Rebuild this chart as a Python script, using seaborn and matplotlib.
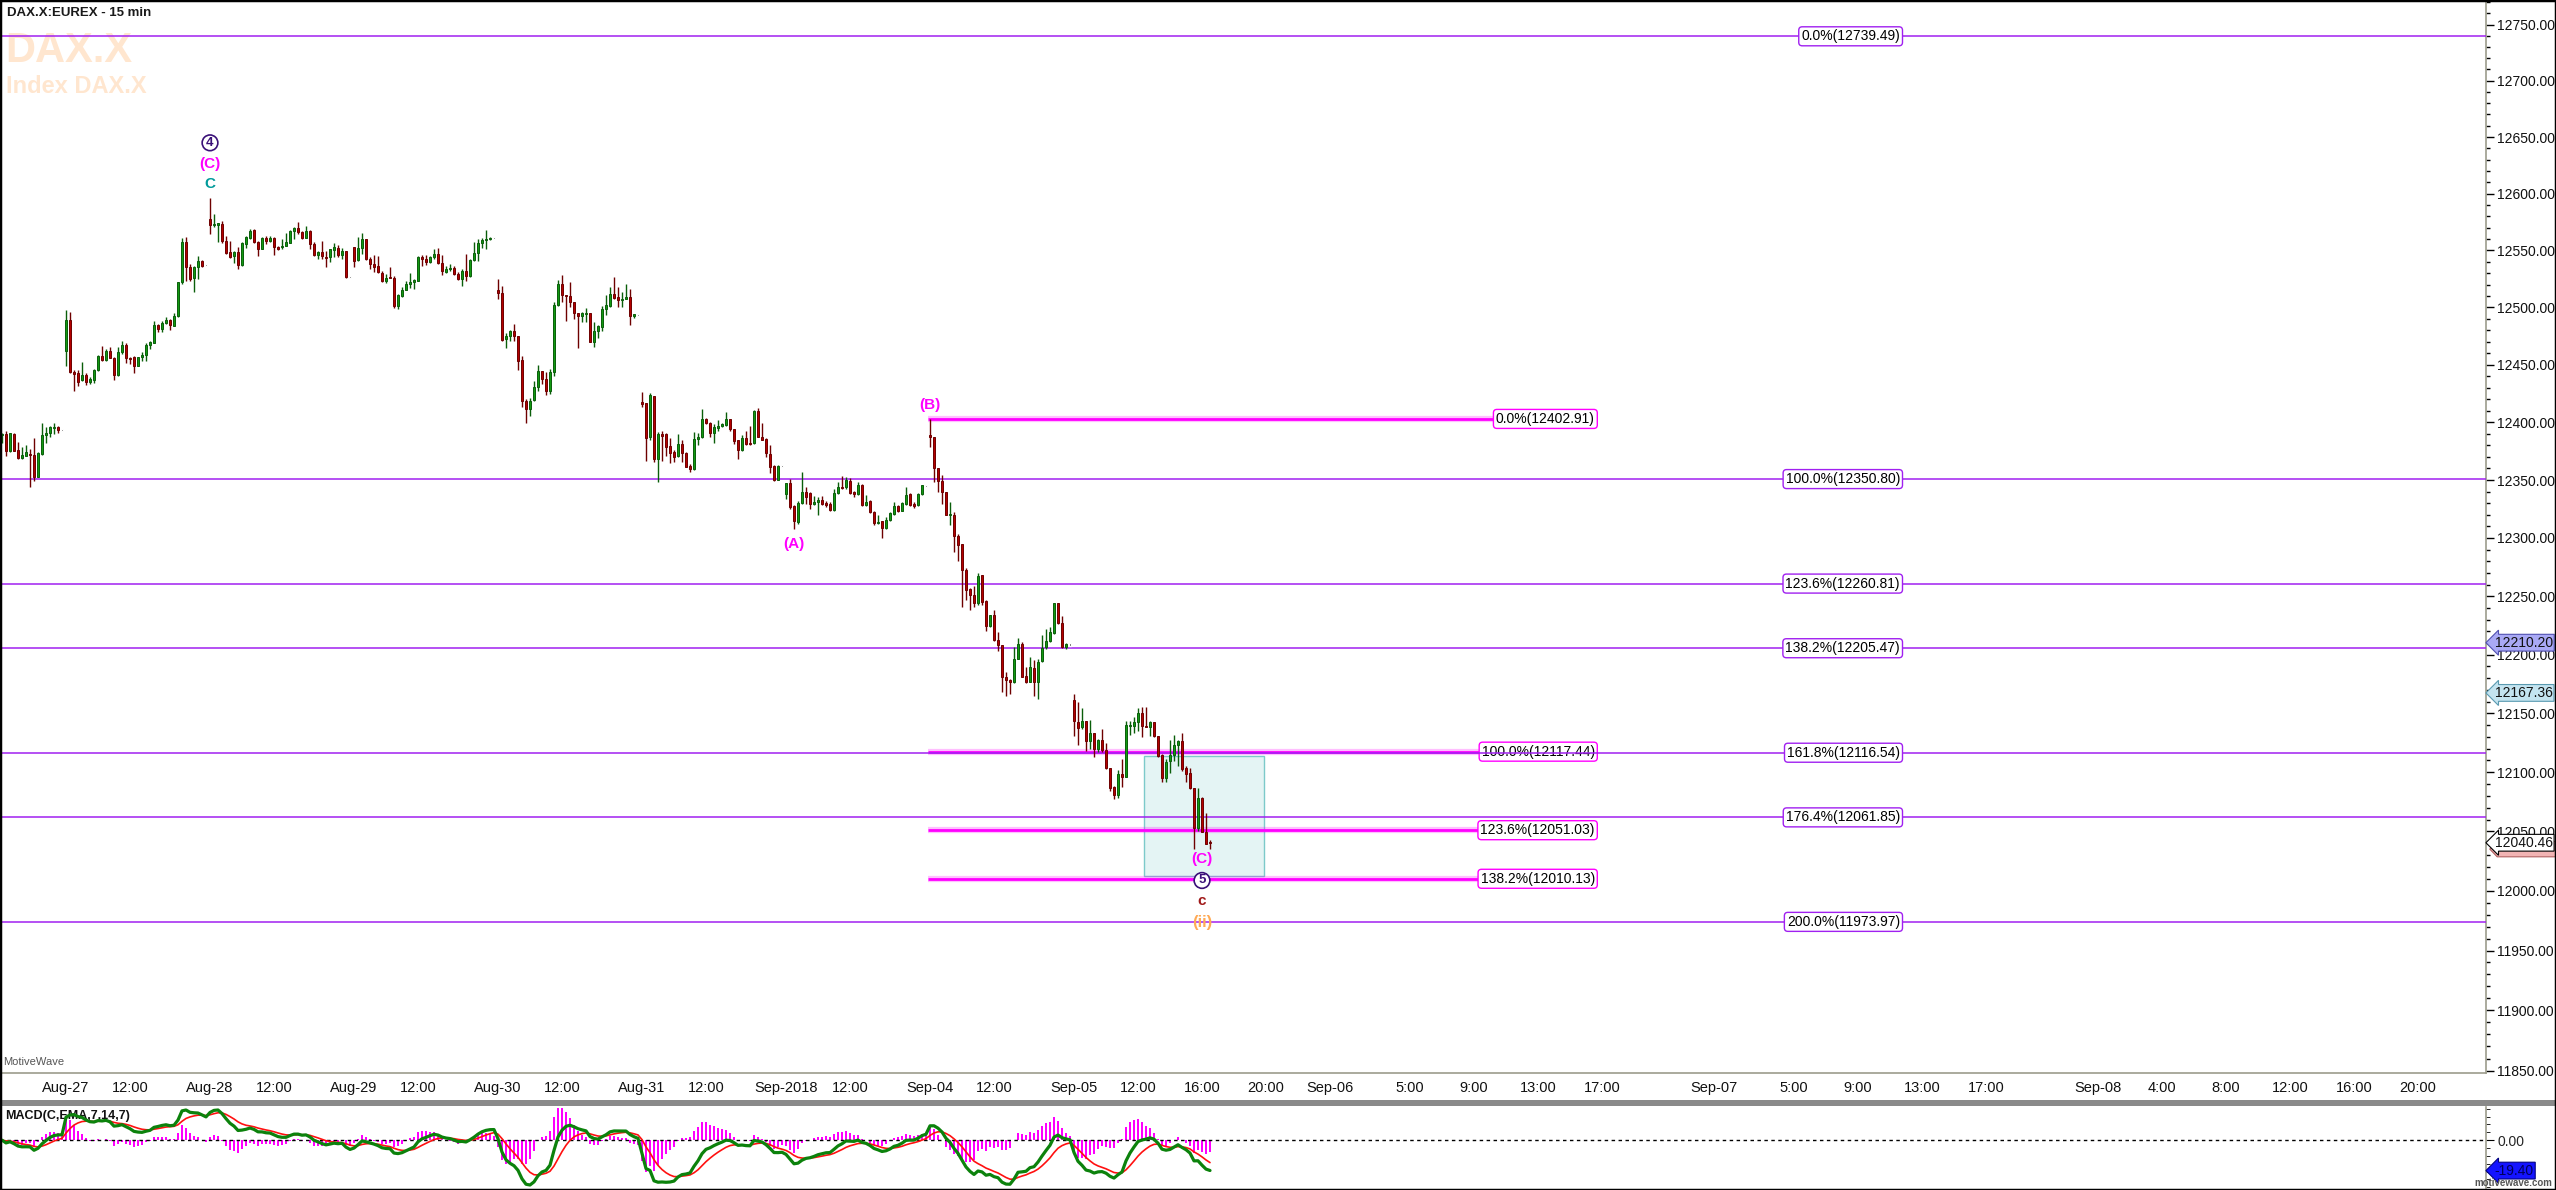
import numpy as np
import pandas as pd
import matplotlib
matplotlib.use("Agg")
import matplotlib.pyplot as plt
import matplotlib.ticker as mticker
from matplotlib.patches import Rectangle, Polygon
from matplotlib.transforms import blended_transform_factory
import seaborn as sns

# ---------------------------------------------------------------------------
# Data: 15-min bars (open, high, low, close)
# ---------------------------------------------------------------------------
aug24 = [
    (12389.0, 12390.4, 12381.8, 12389.9), (12389.9, 12392.8, 12371.2, 12374.9),
    (12374.9, 12391.0, 12374.5, 12390.4), (12389.9, 12390.4, 12375.5, 12375.5),
    (12376.0, 12382.7, 12368.5, 12368.8), (12368.8, 12378.4, 12368.5, 12372.0),
    (12370.9, 12380.4, 12370.5, 12373.8), (12372.6, 12377.0, 12343.6, 12371.8),
    (12372.0, 12386.1, 12348.9, 12352.3), (12352.3, 12374.0, 12352.3, 12373.5),
    (12372.6, 12399.1, 12371.5, 12389.3), (12389.0, 12395.6, 12382.4, 12391.0),
    (12390.4, 12396.8, 12387.0, 12395.6), (12395.1, 12399.1, 12389.9, 12396.0),
    (12396.2, 12396.5, 12390.4, 12393.0), (12393.2, 12393.2, 12393.2, 12393.2),
]
aug27 = [
    (12461.7, 12497.9, 12449.2, 12489.1), (12489.1, 12496.4, 12442.5, 12443.4),
    (12443.4, 12445.5, 12427.4, 12442.0), (12442.9, 12445.5, 12431.7, 12434.6),
    (12436.7, 12452.7, 12436.1, 12441.1), (12441.4, 12442.5, 12432.0, 12434.6),
    (12434.6, 12439.6, 12433.2, 12437.6), (12437.0, 12446.0, 12433.8, 12445.5),
    (12445.5, 12458.8, 12444.9, 12457.9), (12457.9, 12466.7, 12453.6, 12454.2),
    (12454.2, 12463.8, 12453.6, 12462.3), (12462.3, 12465.2, 12455.6, 12455.9),
    (12455.9, 12456.5, 12437.0, 12440.8), (12440.8, 12465.8, 12440.5, 12461.2),
    (12460.8, 12471.0, 12459.4, 12467.5), (12467.5, 12468.7, 12451.2, 12455.9),
    (12455.9, 12457.1, 12450.7, 12454.7), (12456.5, 12457.9, 12442.5, 12449.0),
    (12449.0, 12457.1, 12448.6, 12456.5), (12456.5, 12460.8, 12453.6, 12458.8),
    (12458.5, 12468.7, 12453.6, 12467.5), (12466.9, 12470.4, 12463.8, 12469.9),
    (12469.3, 12488.5, 12468.7, 12485.0), (12485.0, 12485.6, 12478.3, 12481.3),
    (12481.3, 12488.5, 12478.3, 12486.5), (12486.5, 12491.4, 12485.6, 12489.1),
    (12489.1, 12490.0, 12480.4, 12484.4), (12483.8, 12495.2, 12483.5, 12492.9),
    (12492.3, 12522.7, 12492.0, 12522.4), (12522.4, 12560.7, 12520.6, 12557.8),
    (12557.8, 12561.5, 12523.5, 12535.2), (12535.2, 12538.1, 12523.5, 12525.0),
    (12525.6, 12536.7, 12513.3, 12535.8), (12535.2, 12545.4, 12525.0, 12541.0),
    (12541.0, 12541.7, 12535.8, 12536.7), (12536.9, 12536.9, 12536.9, 12536.9),
]
aug28 = [
    (12577.8, 12596.3, 12564.5, 12572.5), (12572.5, 12582.2, 12570.4, 12573.3),
    (12572.7, 12573.9, 12557.1, 12573.3), (12573.3, 12575.6, 12556.9, 12558.0),
    (12558.0, 12563.0, 12546.9, 12547.8), (12548.3, 12558.6, 12543.4, 12544.5),
    (12545.1, 12549.8, 12538.7, 12548.3), (12548.3, 12552.7, 12533.8, 12537.3),
    (12537.3, 12557.1, 12536.4, 12556.6), (12555.7, 12563.0, 12551.9, 12561.5),
    (12561.0, 12568.9, 12560.1, 12567.4), (12568.1, 12568.9, 12556.9, 12557.8),
    (12557.8, 12558.6, 12545.4, 12551.3), (12551.3, 12561.5, 12551.0, 12561.0),
    (12561.0, 12563.0, 12555.7, 12558.0), (12558.0, 12562.4, 12557.8, 12561.0),
    (12561.0, 12561.5, 12546.3, 12553.4), (12553.4, 12554.2, 12550.4, 12551.3),
    (12552.7, 12560.1, 12551.3, 12554.2), (12554.0, 12565.1, 12553.6, 12557.1),
    (12556.6, 12568.1, 12556.2, 12567.4), (12566.8, 12570.4, 12560.1, 12569.8),
    (12569.8, 12575.4, 12564.5, 12565.9), (12566.6, 12567.4, 12560.1, 12561.0),
    (12561.0, 12571.9, 12560.6, 12567.4), (12567.4, 12568.1, 12551.0, 12555.7),
    (12555.7, 12557.1, 12545.4, 12546.0), (12546.0, 12549.8, 12542.2, 12548.9),
    (12548.9, 12558.6, 12542.5, 12544.8), (12544.5, 12549.8, 12535.8, 12543.4),
    (12543.9, 12551.3, 12539.6, 12551.3), (12550.4, 12556.9, 12544.5, 12552.8),
    (12552.2, 12555.1, 12543.9, 12546.0), (12546.0, 12552.2, 12542.5, 12549.8),
    (12549.8, 12549.8, 12525.9, 12526.4), (12526.4, 12526.4, 12526.4, 12526.4),
]
aug29 = [
    (12553.3, 12553.3, 12535.2, 12540.4), (12541.6, 12562.2, 12540.4, 12552.2),
    (12552.2, 12565.1, 12546.9, 12560.1), (12560.1, 12560.4, 12541.6, 12542.5),
    (12542.5, 12544.5, 12533.8, 12538.1), (12538.1, 12546.3, 12530.8, 12535.8),
    (12536.7, 12545.4, 12530.5, 12530.8), (12529.9, 12532.3, 12522.0, 12523.5),
    (12523.5, 12529.4, 12521.2, 12525.9), (12527.0, 12535.8, 12525.6, 12525.6),
    (12525.9, 12527.9, 12499.6, 12501.0), (12501.0, 12511.8, 12498.4, 12511.3),
    (12510.4, 12517.6, 12508.9, 12515.6), (12515.6, 12523.5, 12515.3, 12520.6),
    (12520.6, 12529.9, 12517.1, 12522.6), (12522.0, 12525.0, 12515.9, 12524.1),
    (12523.5, 12545.4, 12522.9, 12544.5), (12544.5, 12545.7, 12536.1, 12542.5),
    (12542.5, 12546.3, 12537.5, 12539.6), (12539.6, 12545.4, 12539.0, 12544.5),
    (12543.9, 12551.3, 12542.5, 12546.9), (12546.9, 12552.2, 12538.1, 12538.7),
    (12539.3, 12546.3, 12528.8, 12531.7), (12531.4, 12536.4, 12529.9, 12533.8),
    (12533.4, 12538.1, 12532.3, 12534.6), (12534.6, 12536.4, 12528.5, 12529.4),
    (12529.4, 12530.8, 12524.1, 12525.0), (12525.0, 12533.4, 12519.1, 12532.3),
    (12532.3, 12546.9, 12522.9, 12527.9), (12527.9, 12542.5, 12527.0, 12541.6),
    (12541.6, 12557.7, 12541.0, 12548.0), (12548.0, 12560.1, 12541.0, 12556.3),
    (12556.3, 12561.0, 12552.2, 12559.3), (12559.3, 12568.1, 12551.0, 12560.1),
    (12560.1, 12561.6, 12559.3, 12560.7), (12560.7, 12560.7, 12560.7, 12560.7),
]
aug30 = [
    (12515.6, 12525.0, 12507.5, 12512.4), (12512.7, 12518.9, 12470.4, 12471.9),
    (12472.5, 12477.7, 12464.3, 12475.4), (12474.8, 12480.6, 12470.4, 12479.8),
    (12479.8, 12485.6, 12471.0, 12474.8), (12475.4, 12475.4, 12445.7, 12453.6),
    (12454.2, 12457.9, 12412.9, 12418.1), (12418.7, 12420.2, 12399.1, 12411.5),
    (12411.5, 12421.1, 12405.7, 12418.7), (12419.3, 12436.1, 12418.7, 12430.3),
    (12430.3, 12450.1, 12427.4, 12444.9), (12444.9, 12444.9, 12433.2, 12437.6),
    (12437.6, 12444.0, 12423.9, 12426.8), (12427.4, 12446.3, 12424.5, 12444.0),
    (12443.4, 12504.5, 12439.9, 12502.2), (12502.2, 12524.1, 12501.0, 12520.6),
    (12520.6, 12528.8, 12504.5, 12511.0), (12511.3, 12511.3, 12487.9, 12509.8),
    (12510.4, 12522.6, 12500.2, 12504.5), (12505.1, 12505.1, 12490.0, 12494.9),
    (12495.5, 12495.5, 12464.3, 12492.3), (12492.6, 12495.8, 12487.0, 12494.9),
    (12494.3, 12499.6, 12487.0, 12495.5), (12495.5, 12495.5, 12469.6, 12469.6),
    (12469.6, 12487.0, 12465.2, 12479.8), (12479.2, 12485.0, 12473.0, 12483.5),
    (12482.6, 12501.6, 12479.2, 12498.7), (12498.7, 12511.3, 12493.7, 12502.2),
    (12501.6, 12517.6, 12500.8, 12511.8), (12511.8, 12527.0, 12507.5, 12508.0),
    (12508.9, 12517.6, 12500.2, 12506.3), (12506.6, 12513.9, 12500.8, 12507.8),
    (12507.8, 12520.6, 12507.5, 12509.5), (12509.5, 12515.9, 12485.0, 12492.3),
    (12492.9, 12493.7, 12490.9, 12493.7), (12493.2, 12493.2, 12493.2, 12493.2),
]
aug31 = [
    (12417.8, 12426.5, 12412.9, 12415.5), (12416.4, 12416.4, 12366.2, 12386.1),
    (12387.0, 12425.0, 12384.8, 12423.6), (12423.0, 12423.0, 12365.3, 12368.0),
    (12368.0, 12391.3, 12348.0, 12389.9), (12389.9, 12392.2, 12366.8, 12388.5),
    (12389.9, 12390.4, 12370.6, 12378.4), (12379.8, 12386.5, 12364.5, 12373.2),
    (12374.0, 12376.1, 12365.3, 12369.7), (12370.6, 12389.9, 12369.7, 12381.3),
    (12381.3, 12384.2, 12365.3, 12373.2), (12373.5, 12374.0, 12361.0, 12361.6),
    (12362.2, 12363.9, 12356.7, 12359.3), (12359.3, 12391.3, 12359.0, 12385.6),
    (12385.6, 12390.4, 12380.7, 12387.6), (12387.0, 12411.5, 12386.5, 12402.9),
    (12402.9, 12403.4, 12398.6, 12399.1), (12399.7, 12400.6, 12387.0, 12390.4),
    (12390.4, 12398.6, 12382.2, 12395.6), (12394.8, 12402.0, 12392.2, 12396.8),
    (12396.5, 12399.7, 12395.6, 12398.6), (12398.0, 12409.2, 12397.1, 12402.9),
    (12402.9, 12402.9, 12392.8, 12394.2), (12394.2, 12394.2, 12381.3, 12383.6),
    (12384.2, 12384.2, 12368.0, 12376.1), (12376.1, 12389.3, 12375.5, 12386.5),
    (12386.5, 12392.2, 12380.7, 12381.3), (12381.8, 12396.8, 12380.7, 12381.3),
    (12381.8, 12410.9, 12381.3, 12410.1), (12410.1, 12412.4, 12387.0, 12387.6),
    (12387.6, 12399.7, 12384.2, 12384.8), (12385.6, 12386.5, 12369.7, 12373.2),
    (12372.6, 12380.7, 12356.4, 12361.6), (12362.5, 12363.1, 12349.5, 12350.3),
    (12350.3, 12363.1, 12350.3, 12362.5), (12362.5, 12362.5, 12362.5, 12362.5),
]
sep03 = [
    (12337.9, 12347.5, 12333.5, 12347.5), (12347.5, 12350.9, 12325.0, 12326.4),
    (12327.2, 12328.7, 12307.8, 12314.4), (12313.5, 12332.1, 12312.1, 12330.1),
    (12329.8, 12357.3, 12329.3, 12339.9), (12339.9, 12344.3, 12329.3, 12335.5),
    (12338.4, 12339.3, 12325.0, 12329.3), (12329.3, 12336.4, 12328.4, 12331.2),
    (12330.6, 12334.9, 12320.1, 12332.7), (12332.7, 12335.8, 12328.7, 12329.3),
    (12329.8, 12331.5, 12326.4, 12328.7), (12329.3, 12330.6, 12323.5, 12324.1),
    (12324.1, 12342.3, 12323.5, 12338.8), (12338.8, 12348.0, 12337.9, 12344.3),
    (12344.3, 12353.8, 12342.3, 12342.8), (12343.7, 12352.3, 12342.3, 12350.1),
    (12348.9, 12351.8, 12337.9, 12338.8), (12339.3, 12340.2, 12334.9, 12337.9),
    (12337.9, 12348.0, 12337.3, 12345.7), (12346.0, 12346.6, 12327.8, 12328.4),
    (12328.4, 12337.0, 12327.8, 12331.2), (12332.1, 12332.7, 12321.2, 12322.1),
    (12322.7, 12323.5, 12311.5, 12312.6), (12312.6, 12320.1, 12312.1, 12314.1),
    (12314.4, 12315.0, 12300.1, 12308.3), (12308.3, 12318.4, 12307.8, 12315.8),
    (12315.8, 12322.1, 12315.0, 12321.2), (12320.7, 12330.6, 12320.1, 12327.8),
    (12327.8, 12328.4, 12322.1, 12322.9), (12322.9, 12330.6, 12322.9, 12329.8),
    (12329.3, 12343.7, 12328.7, 12337.0), (12337.9, 12338.4, 12327.8, 12328.7),
    (12329.3, 12330.6, 12325.5, 12327.8), (12328.4, 12338.4, 12327.8, 12337.9),
    (12337.9, 12346.0, 12337.3, 12345.7), (12345.1, 12345.1, 12345.1, 12345.1),
]
sep04 = [
    (12389.3, 12402.9, 12378.4, 12387.0), (12387.6, 12387.6, 12348.0, 12360.1),
    (12360.5, 12360.5, 12339.3, 12349.5), (12349.5, 12354.7, 12329.3, 12339.3),
    (12339.9, 12339.9, 12319.9, 12319.9), (12319.9, 12331.2, 12311.5, 12320.7),
    (12320.1, 12322.1, 12287.8, 12301.5), (12302.1, 12303.6, 12280.1, 12294.2),
    (12294.4, 12294.4, 12240.5, 12272.6), (12272.9, 12274.0, 12247.1, 12255.6),
    (12256.2, 12257.1, 12238.2, 12251.0), (12251.3, 12258.5, 12240.5, 12243.9),
    (12243.9, 12270.0, 12242.5, 12267.7), (12268.5, 12268.5, 12242.7, 12244.7),
    (12246.2, 12246.8, 12219.9, 12224.2), (12224.2, 12233.9, 12223.9, 12233.9),
    (12233.9, 12238.2, 12211.3, 12212.5), (12212.5, 12219.6, 12202.7, 12208.2),
    (12208.2, 12208.2, 12167.8, 12180.6), (12181.2, 12184.8, 12164.4, 12178.4),
    (12178.4, 12179.2, 12166.4, 12176.3), (12176.3, 12206.1, 12175.5, 12196.7),
    (12196.7, 12214.2, 12196.2, 12209.0), (12209.0, 12211.1, 12180.6, 12181.2),
    (12182.0, 12189.1, 12175.5, 12176.9), (12176.9, 12198.2, 12176.3, 12189.1),
    (12188.2, 12195.4, 12165.0, 12176.3), (12176.3, 12196.2, 12162.1, 12193.9),
    (12194.2, 12216.8, 12193.9, 12205.6), (12206.1, 12221.9, 12204.7, 12211.9),
    (12211.9, 12223.9, 12210.4, 12219.0), (12218.5, 12244.2, 12217.6, 12244.2),
    (12244.2, 12244.2, 12226.2, 12226.8), (12226.8, 12233.4, 12205.6, 12206.1),
    (12206.1, 12210.2, 12204.7, 12209.3), (12208.7, 12208.7, 12208.7, 12208.7),
]
sep05 = [
    (12161.3, 12166.4, 12130.9, 12143.1), (12142.3, 12159.9, 12123.3, 12137.5),
    (12138.6, 12154.5, 12136.6, 12143.1), (12143.7, 12143.7, 12117.6, 12126.7),
    (12126.7, 12144.3, 12119.6, 12132.9), (12132.9, 12132.9, 12113.1, 12119.6),
    (12119.6, 12128.1, 12116.8, 12127.3), (12127.3, 12136.6, 12116.8, 12118.8),
    (12118.8, 12125.2, 12102.7, 12103.6), (12103.6, 12103.6, 12084.3, 12086.3),
    (12087.2, 12088.6, 12077.3, 12080.7), (12080.7, 12101.8, 12078.2, 12098.5),
    (12098.5, 12111.2, 12087.2, 12095.6), (12096.2, 12143.7, 12095.6, 12140.3),
    (12138.9, 12143.1, 12131.5, 12140.3), (12139.5, 12146.5, 12132.9, 12142.8),
    (12142.3, 12154.5, 12135.2, 12150.3), (12150.3, 12155.6, 12130.3, 12138.9),
    (12139.5, 12155.6, 12138.0, 12138.0), (12138.0, 12143.1, 12130.9, 12142.3),
    (12142.3, 12142.8, 12130.3, 12130.9), (12130.9, 12130.9, 12113.1, 12114.0),
    (12114.8, 12115.4, 12092.0, 12094.8), (12094.8, 12111.2, 12091.4, 12108.9),
    (12109.8, 12127.5, 12099.3, 12114.8), (12114.8, 12131.5, 12109.2, 12123.0),
    (12123.0, 12127.5, 12105.5, 12126.7), (12126.1, 12133.2, 12101.3, 12102.7),
    (12103.6, 12104.9, 12092.0, 12098.5), (12099.0, 12103.2, 12085.8, 12086.6),
    (12086.6, 12086.6, 12035.1, 12053.3), (12053.3, 12086.3, 12050.0, 12077.8),
    (12077.8, 12079.2, 12049.1, 12049.7), (12049.1, 12065.5, 12039.3, 12039.3),
    (12041.5, 12042.7, 12035.1, 12040.46),
]
DAY_BARS = [aug24, aug27, aug28, aug29, aug30, aug31, sep03, sep04, sep05]
DAY_STARTS = ["2018-08-24 13:00", "2018-08-27 08:00", "2018-08-28 08:00",
              "2018-08-29 08:00", "2018-08-30 08:00", "2018-08-31 08:00",
              "2018-09-03 08:00", "2018-09-04 08:00", "2018-09-05 08:00"]

# axis ticks
TICK_TIMES = ["2018-08-27 08:00", "2018-08-27 12:00", "2018-08-28 08:00", "2018-08-28 12:00",
              "2018-08-29 08:00", "2018-08-29 12:00", "2018-08-30 08:00", "2018-08-30 12:00",
              "2018-08-31 08:00", "2018-08-31 12:00", "2018-09-03 08:00", "2018-09-03 12:00",
              "2018-09-04 08:00", "2018-09-04 12:00", "2018-09-05 08:00", "2018-09-05 12:00",
              "2018-09-05 16:00", "2018-09-05 20:00", "2018-09-06 00:00", "2018-09-06 05:00",
              "2018-09-06 09:00", "2018-09-06 13:00", "2018-09-06 17:00", "2018-09-07 00:00",
              "2018-09-07 05:00", "2018-09-07 09:00", "2018-09-07 13:00", "2018-09-07 17:00",
              "2018-09-08 00:00", "2018-09-08 04:00", "2018-09-08 08:00", "2018-09-08 12:00",
              "2018-09-08 16:00", "2018-09-08 20:00"]
TICK_LABELS = ["Aug-27", "12:00", "Aug-28", "12:00", "Aug-29", "12:00", "Aug-30", "12:00",
               "Aug-31", "12:00", "Sep-2018", "12:00", "Sep-04", "12:00", "Sep-05", "12:00",
               "16:00", "20:00", "Sep-06", "5:00", "9:00", "13:00", "17:00", "Sep-07",
               "5:00", "9:00", "13:00", "17:00", "Sep-08", "4:00", "8:00", "12:00",
               "16:00", "20:00"]

# Fibonacci levels
PURPLE_LEVELS = [12739.49, 12350.80, 12260.81, 12205.47, 12116.54, 12061.85, 11973.97]
PURPLE_PCTS = ["0.0%", "100.0%", "123.6%", "138.2%", "161.8%", "176.4%", "200.0%"]
MAGENTA_LEVELS = [12402.91, 12117.44, 12051.03, 12010.13]
MAGENTA_PCTS = ["0.0%", "100.0%", "123.6%", "138.2%"]

# target zone box
BOX_TIMES = ["2018-09-05 12:30", "2018-09-05 20:00"]
BOX_PRICES = [12012.5, 12114.0]

# wave labels
WAVE_TIMES = ["2018-08-28 08:00", "2018-08-28 08:00", "2018-08-28 08:00",
              "2018-09-04 08:00", "2018-09-03 08:30",
              "2018-09-05 16:00", "2018-09-05 16:00", "2018-09-05 16:00", "2018-09-05 16:00"]
WAVE_TEXT = ["C", "(C)", "4", "(B)", "(A)", "(C)", "5", "c", "(ii)"]
WAVE_COLOR = ["#009a9a", "#ff00ff", "#3a1078", "#ff00ff", "#ff00ff",
              "#ff00ff", "#3a1078", "#a01818", "#ffaa55"]
WAVE_SIDE = ["high", "high", "high", "high", "low", "low", "low", "low", "low"]
WAVE_OFFSET = [14, 34, 55, 14, 15, 27, 48, 69, 90]
WAVE_CIRCLED = [False, False, True, False, False, False, True, False, False]

# right-axis price tags
TAG_VALUES = [12210.20, 12167.36, 12040.46]
TAG_FACE = ["#a9a9f5", "#c4e4f0", "#ffffff"]
TAG_EDGE = ["#5050b0", "#5a9ab0", "#000000"]
LOW_TAG = 12035.10
MACD_LAST = -19.40

# ---------------------------------------------------------------------------
# Build frame
# ---------------------------------------------------------------------------
rows = []
for start, bars in zip(DAY_STARTS, DAY_BARS):
    t0 = pd.Timestamp(start)
    for i, (o, h, l, c) in enumerate(bars):
        rows.append((t0 + pd.Timedelta(minutes=15 * i), o, h, l, c))
df = pd.DataFrame(rows, columns=["time", "open", "high", "low", "close"])
df["slot"] = np.arange(len(df), dtype=float)

slot_of = dict(zip(df["time"], df["slot"]))
last_t = df["time"].iloc[-1]
last_s = df["slot"].iloc[-1]


def to_slot(t):
    t = pd.Timestamp(t)
    if t in slot_of:
        return slot_of[t]
    return last_s + (t - last_t) / pd.Timedelta(minutes=15)


ema_f = df["close"].ewm(span=7, adjust=False).mean()
ema_s = df["close"].ewm(span=14, adjust=False).mean()
df["macd"] = ema_f - ema_s
df["signal"] = df["macd"].ewm(span=7, adjust=False).mean()
df["hist"] = df["macd"] - df["signal"]

# ---------------------------------------------------------------------------
# Figure
# ---------------------------------------------------------------------------
sns.set_style("white")
plt.rcParams["font.family"] = ["Liberation Sans", "DejaVu Sans"]
NARROW = ["Liberation Sans Narrow", "Liberation Sans", "DejaVu Sans"]

W, H = 2556, 1190
fig = plt.figure(figsize=(W / 100, H / 100), dpi=100)
fig.patch.set_facecolor("white")


def fy(py):
    return 1 - py / H


AX_RIGHT = 2486 / W
ax = fig.add_axes([0, fy(1073), AX_RIGHT, (1073 - 1) / H])
ax2 = fig.add_axes([0, fy(1188), AX_RIGHT, (1188 - 1107) / H], sharex=ax)
axh = ax2.twinx()
for a in (ax, ax2, axh):
    a.set_facecolor("none")
axh.set_zorder(ax2.get_zorder() - 0.5)
ax2.set_zorder(axh.get_zorder() + 1)

PURPLE = "#a020f0"
MAGENTA = "#ff00ff"

# watermark + title
fig.text(5 / W, fy(62), "DAX.X", fontsize=30, fontweight="bold", color="#ffe6cf",
         va="baseline", ha="left", zorder=-5)
fig.text(6 / W, fy(93), "Index DAX.X", fontsize=17, fontweight="bold", color="#ffe6cf",
         va="baseline", ha="left", zorder=-5)
fig.text(7 / W, fy(13), "DAX.X:EUREX - 15 min", fontsize=9.5, fontweight="bold",
         color="#1a1a1a", va="center", ha="left")
fig.text(3 / W, fy(1062), "MotiveWave", fontsize=8, color="#555555", va="center", ha="left")

# target box
bx0, bx1 = (to_slot(t) - 0.5 for t in BOX_TIMES)
ax.add_patch(Rectangle((bx0, BOX_PRICES[0]), bx1 - bx0, BOX_PRICES[1] - BOX_PRICES[0],
                       facecolor="#e4f4f4", edgecolor="#7ccaca", lw=1.0, zorder=1))

# magenta projection lines
MAG_X0 = to_slot("2018-09-04 08:00") - 0.5
MAG_LABEL_X = 398.2
for lvl, pct in zip(MAGENTA_LEVELS, MAGENTA_PCTS):
    ax.hlines(lvl, MAG_X0, MAG_LABEL_X - 20, color=MAGENTA, lw=4.5, alpha=0.25, zorder=2)
    ax.hlines(lvl, MAG_X0, MAG_LABEL_X - 20, color=MAGENTA, lw=2.0, zorder=2.1)
    ax.text(MAG_LABEL_X, lvl, f"{pct}({lvl:.2f})", ha="right", va="center", fontsize=10,
            color="black", zorder=2.8,
            bbox=dict(boxstyle="round,pad=0.18,rounding_size=0.25", fc="white",
                      ec=MAGENTA, lw=1.0))

# purple retracement lines
PURPLE_LABEL_X = 474.5
for lvl, pct in zip(PURPLE_LEVELS, PURPLE_PCTS):
    ax.axhline(lvl, color=PURPLE, lw=1.1, zorder=3)
    ax.text(PURPLE_LABEL_X, lvl, f"{pct}({lvl:.2f})", ha="right", va="center", fontsize=10,
            color="black", zorder=6,
            bbox=dict(boxstyle="round,pad=0.18,rounding_size=0.25", fc="white",
                      ec=PURPLE, lw=1.0))

# candles
flat = df["high"] == df["low"]
up = (df["close"] >= df["open"]) & ~flat
dn = (df["close"] < df["open"]) & ~flat
for mask, fill, edge in ((up, "#129a12", "#0a5e0a"), (dn, "#b40000", "#6e0000")):
    d = df[mask]
    ax.vlines(d["slot"], d["low"], d["high"], color=edge, lw=1.0, zorder=4)
    lo = np.minimum(d["open"], d["close"])
    ht = np.maximum(np.abs(d["close"] - d["open"]), 1.0)
    ax.bar(d["slot"], ht, bottom=lo, width=0.7, color=fill, edgecolor=edge,
           linewidth=0.7, zorder=5)
d = df[flat]
ax.bar(d["slot"], 1.8, bottom=d["close"] - 0.9, width=0.6, color="black", zorder=5)

# wave labels
for t, txt, col, side, off, circ in zip(WAVE_TIMES, WAVE_TEXT, WAVE_COLOR, WAVE_SIDE,
                                          WAVE_OFFSET, WAVE_CIRCLED):
    row = df.loc[df["time"] == pd.Timestamp(t)].iloc[0]
    yv = row["high"] if side == "high" else row["low"]
    dy = off if side == "high" else -off
    kw = dict(fontsize=11, fontweight="bold", color=col, ha="center", va="center", zorder=7)
    if circ:
        kw["fontsize"] = 9.5
        kw["bbox"] = dict(boxstyle="circle,pad=0.14", fc="white", ec="#3a1078", lw=1.2)
    if txt == "(ii)":
        kw["fontsize"] = 12
    ax.annotate(txt, (row["slot"], yv), xytext=(0, dy), textcoords="offset pixels", **kw)

# price axis
ax.set_yscale("log")
ax.set_ylim(11848, 12771)
ax.set_xlim(-0.5, 621)
ax.yaxis.tick_right()
ax.yaxis.set_major_locator(mticker.FixedLocator(np.arange(11850, 12751, 50)))
ax.yaxis.set_major_formatter(mticker.FuncFormatter(lambda v, p: f"{v:.2f}"))
ax.yaxis.set_minor_locator(mticker.FixedLocator(np.arange(11850, 12771, 10)))
ax.yaxis.set_minor_formatter(mticker.NullFormatter())
ax.tick_params(axis="y", which="major", length=6, width=1, color="black",
               labelsize=10, pad=2, labelcolor="#111111")
ax.tick_params(axis="y", which="minor", length=3, width=1, color="black")

ax.set_xticks([to_slot(t) for t in TICK_TIMES])
ax.set_xticklabels(TICK_LABELS)
ax.tick_params(axis="x", length=4, width=1, color="black", labelsize=10.5, pad=2,
               labelcolor="#111111")
for lbl in ax.get_xticklabels():
    lbl.set_fontfamily(NARROW)
ax.grid(False)
for s in ("top", "left"):
    ax.spines[s].set_visible(False)
for s in ("right", "bottom"):
    ax.spines[s].set_color("#9c9c8c")
    ax.spines[s].set_linewidth(1.2)

tag_tr = blended_transform_factory(ax.transAxes, ax.transData)
# low-price marker tag sitting behind the last-price tag (its text is hidden there)
ax.add_patch(Polygon([(1.0015, LOW_TAG), (1.0045, LOW_TAG + 6.5), (1.0285, LOW_TAG + 6.5),
                      (1.0285, LOW_TAG - 6.5), (1.0045, LOW_TAG - 6.5)],
                     closed=True, transform=tag_tr, facecolor="#f2b4b4",
                     edgecolor="#b06060", lw=0.8, clip_on=False, zorder=9))
for val, fc, ec in zip(TAG_VALUES, TAG_FACE, TAG_EDGE):
    ax.text(1.0035, val, f"{val:.2f}", transform=tag_tr, ha="left", va="center",
            fontsize=10, color="#111111", clip_on=False, zorder=10,
            bbox=dict(boxstyle="larrow,pad=0.1", fc=fc, ec=ec, lw=0.8))

# MACD panel: histogram on its own autoscaled axis, lines on the main one
lo_v = min(df["macd"].min(), df["signal"].min())
hi_v = max(df["macd"].max(), df["signal"].max())
pad = (hi_v - lo_v) * 0.04
ax2.set_ylim(lo_v - pad, hi_v + pad)
f0 = (0 - (lo_v - pad)) / ((hi_v + pad) - (lo_v - pad))
h_top = max(df["hist"].max() / 0.97, -df["hist"].min() * (1 - f0) / f0 / 0.97)
axh.set_ylim(-h_top * f0 / (1 - f0), h_top)
axh.bar(df["slot"], df["hist"], width=0.62, color="#ff00ff", linewidth=0,
        antialiased=False, zorder=2)
axh.set_yticks([])
axh.set_ylabel("")
for s in axh.spines.values():
    s.set_visible(False)

sns.lineplot(x=df["slot"], y=df["signal"], ax=ax2, color="#ff1010", linewidth=1.2,
             zorder=3)
sns.lineplot(x=df["slot"], y=df["macd"], ax=ax2, color="#0c820c", linewidth=2.3,
             zorder=4)
ax2.axhline(0, color="black", lw=1.0, ls=(0, (2.5, 2.5)), zorder=1)
ax2.set_xlabel("")
ax2.set_ylabel("")
ax2.yaxis.tick_right()
ax2.yaxis.set_major_locator(mticker.FixedLocator([0]))
ax2.yaxis.set_major_formatter(mticker.FuncFormatter(lambda v, p: f"{v:.2f}"))
ax2.yaxis.set_minor_locator(mticker.MultipleLocator(5))
ax2.tick_params(axis="y", which="major", length=6, labelsize=10, pad=2, color="black")
ax2.tick_params(axis="y", which="minor", length=3, color="black")
ax2.tick_params(axis="x", which="both", bottom=False, labelbottom=False)
for s in ("top", "left", "bottom"):
    ax2.spines[s].set_visible(False)
ax2.spines["right"].set_color("#9c9c8c")
ax2.spines["right"].set_linewidth(1.2)
ax2.text(0.002, 0.96, "MACD(C,EMA,7,14,7)", transform=ax2.transAxes, fontsize=9,
         fontweight="bold", va="top", ha="left", color="#111111")
tag2 = blended_transform_factory(ax2.transAxes, ax2.transData)
ax2.text(1.0035, MACD_LAST, f"{MACD_LAST:.2f}", transform=tag2, ha="left", va="center",
         fontsize=10, color="#00005a", clip_on=False, zorder=10,
         bbox=dict(boxstyle="larrow,pad=0.1", fc="#1414ff", ec="#000080", lw=0.8))

# separator, footer, frame
fig.patches.append(Rectangle((0, fy(1106)), 1, 6 / H, transform=fig.transFigure,
                             facecolor="#8a8a8a", edgecolor="none", zorder=5))
fig.text(2552 / W, fy(1183), "motivewave.com", fontsize=7, fontweight="bold",
         color="#555555", ha="right", va="center")
fig.patches.append(Rectangle((0, 0), 1, 1, transform=fig.transFigure, fill=False,
                             edgecolor="black", lw=2.5, zorder=10))

fig.savefig("out.png", dpi=100, facecolor="white")
